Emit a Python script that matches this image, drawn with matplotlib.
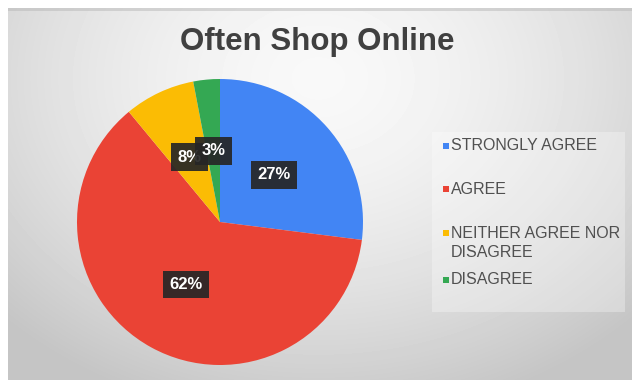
import numpy as np
import matplotlib as mpl
mpl.use('Agg')
import matplotlib.pyplot as plt
from matplotlib.patches import Rectangle

title = 'Often Shop Online'
categories = ['STRONGLY AGREE', 'AGREE', 'NEITHER AGREE NOR\nDISAGREE', 'DISAGREE']
shares = [27, 62, 8, 3]
colors = ['#4285F4', '#EA4335', '#FBBC04', '#34A853']

legend_rows = [146, 189, 243, 280]  # pixel rows of legend entries

W, H = 632, 380
fig = plt.figure(figsize=(W / 100, H / 100), dpi=100)
fig.patch.set_facecolor('white')

# grey backdrop with a soft radial highlight
bg = fig.add_axes([8 / W, 0, 1 - 8 / W, 1 - 8 / H])
yy, xx = np.mgrid[0:H - 8, 0:W - 8]
d = np.sqrt(((xx - 310) / 420.0) ** 2 + ((yy - 70) / 330.0) ** 2)
shade = np.clip(0.975 - 0.19 * d ** 1.6, 0.77, 1.0)
bg.imshow(shade, cmap='gray', vmin=0, vmax=1, aspect='auto',
          extent=[0, W - 8, H - 8, 0])
bg.add_patch(Rectangle((0, 0), W - 8, 3, color='#b8b8b8', alpha=0.5, lw=0))
bg.set_xlim(0, W - 8)
bg.set_ylim(H - 8, 0)
bg.axis('off')

fig.text(317 / W, 1 - 42 / H, title, ha='center', va='center',
         fontsize=22.5, fontweight='bold', color='#404040',
         family='Liberation Sans')

# pie, labels sit halfway out along each wedge
cx, cy, r = 220, 222, 143
ax = fig.add_axes([(cx - r) / W, (H - cy - r) / H, 2 * r / W, 2 * r / H])
wedges, _ = ax.pie(shares, colors=colors, startangle=90, counterclock=False,
                   radius=1, wedgeprops=dict(linewidth=0))
ax.set_xlim(-1, 1)
ax.set_ylim(-1, 1)
ax.set_aspect('equal')
ax.axis('off')

for w, v in zip(wedges, shares):
    mid = np.deg2rad((w.theta1 + w.theta2) / 2)
    ax.text(0.5 * np.cos(mid), 0.5 * np.sin(mid), f'{v}%', ha='center', va='center',
            fontsize=12, fontweight='bold', color='white', family='Liberation Sans',
            bbox=dict(boxstyle='square,pad=0.38', fc='#262626', ec='none', alpha=0.92))

# legend panel
bg.add_patch(Rectangle((432 - 8, 132 - 8), 193, 180, color='white', alpha=0.3, lw=0))
for lab, c, row in zip(categories, colors, legend_rows):
    first = row if '\n' not in lab else row - 10
    bg.add_patch(Rectangle((443 - 8, first - 8 - 3), 6, 6, color=c, lw=0))
    bg.text(451 - 8, row - 8, lab, ha='left', va='center', fontsize=11.5,
            color='#505050', family='Liberation Sans', linespacing=1.3)

fig.savefig('out.png', dpi=100)
